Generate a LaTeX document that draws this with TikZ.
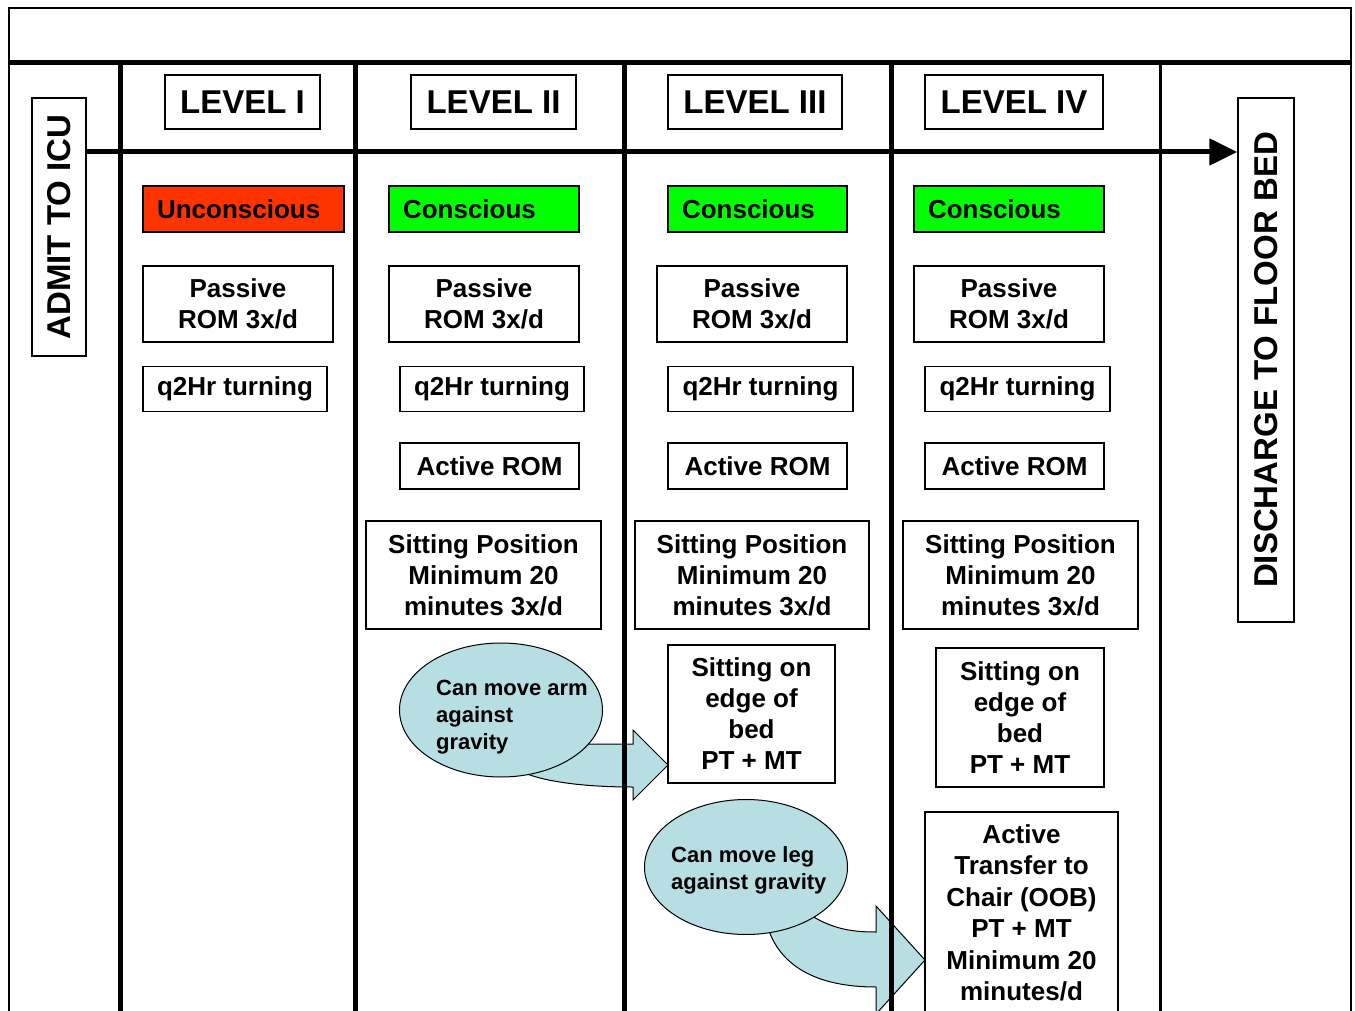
\documentclass[tikz,border=0pt]{standalone}
\usepackage{fontspec}
\setmainfont{Liberation Sans}
\usetikzlibrary{shapes,arrows.meta,positioning,calc}

\definecolor{unconred}{RGB}{255,51,0}
\definecolor{consgreen}{RGB}{0,255,0}
\definecolor{blobblue}{RGB}{183,222,226}

\tikzset{
  lvlbox/.style={draw, line width=1.5pt, inner sep=0pt, minimum height=54pt,
    font=\fontsize{33}{38}\selectfont\bfseries},
  sidebox/.style={draw, line width=1.5pt, inner sep=0pt, rotate=90,
    font=\fontsize{33}{38}\selectfont\bfseries},
  tagbox/.style={draw, line width=1.5pt, inner xsep=14pt, inner ysep=0pt,
    text width=#1, align=left, minimum height=46pt,
    font=\fontsize{26}{31}\selectfont\bfseries},
  taskbox/.style={draw, line width=1.5pt, inner sep=0pt, align=center,
    font=\fontsize{26}{31}\selectfont\bfseries},
  blob/.style={draw, line width=1pt, fill=blobblue, ellipse, inner sep=0pt},
  blobtext/.style={align=left, inner sep=0pt, font=\fontsize{22}{27}\selectfont\bfseries},
  bendarrow/.style={draw, line width=1pt, fill=blobblue},
  colline/.style={line width=5pt},
  flowline/.style={line width=5pt, -{Triangle[length=28pt,width=26pt]}}
}

\begin{document}
\begin{tikzpicture}[x=1pt,y=-1pt]
        \useasboundingbox (0,0) rectangle (1355,1011);
        \fill[white] (0,0) rectangle (1355,1011);
        \clip (0,0) rectangle (1355,1011);

        % Define points
        \coordinate (flow) at (0,152);

        % Draw curved arrows (behind the blobs and the lines)
        \path[bendarrow] (560,744) -- (633,744) -- (633,730) -- (668,765) -- (633,800)
            -- (633,787) .. controls (585,787) and (545,782) .. (522,772) -- cycle;
        \path[bendarrow] (800,908) -- (812,916) .. controls (835,930) and (855,932) .. (876,932)
            -- (876,906) -- (925,960) -- (876,1014) -- (876,987)
            .. controls (815,987) and (780,965) .. (768,928) -- cycle;

        % Draw blobs
        \node[blob, minimum width=203pt, minimum height=134pt] (arm) at (501,710) {};
        \node[blobtext, anchor=west] (armtxt) at (436,717) {Can move arm\\against\\gravity};
        \node[blob, minimum width=203pt, minimum height=135pt] (leg) at (746,867) {};
        \node[blobtext, anchor=west] (legtxt) at (671,870) {Can move leg\\against gravity};

        % Draw frame and column lines
        \draw[line width=2pt] (9,8) rectangle (1351,1030);
        \draw[colline] (9,63) -- (1351,63);
        \foreach \cx in {120,355,624,891}
            \draw[colline] (\cx,63) -- (\cx,1011);
        \draw[line width=3pt] (1160,63) -- (1160,1011);

        % Side labels
        \node[sidebox, minimum width=258pt, minimum height=54pt] (admit) at (59,227) {ADMIT TO ICU};
        \node[sidebox, minimum width=524pt, minimum height=56pt] (discharge) at (1266,360) {DISCHARGE TO FLOOR BED};
        \draw[flowline] (admit.south |- flow) -- (discharge.north |- flow);

        % Level headers
        \node[lvlbox, minimum width=155pt] (lvlI) at (242.5,102) {LEVEL I};
        \node[lvlbox, minimum width=165pt] (lvlII) at (493.5,102) {LEVEL II};
        \node[lvlbox, minimum width=174pt] (lvlIII) at (755,102) {LEVEL III};
        \node[lvlbox, minimum width=178pt] (lvlIV) at (1014,102) {LEVEL IV};

        % State of the patient
        \node[tagbox=173pt, fill=unconred] (unc1) at (243.5,209) {Unconscious};
        \node[tagbox=162pt, fill=consgreen] (con2) at (484,209) {Conscious};
        \node[tagbox=151pt, fill=consgreen] (con3) at (757.5,209) {Conscious};
        \node[tagbox=162pt, fill=consgreen] (con4) at (1009,209) {Conscious};

        % Passive ROM
        \node[taskbox, minimum width=190pt, minimum height=76pt] (pass1) at (238,304) {Passive\\ROM 3x/d};
        \node[taskbox, minimum width=190pt, minimum height=76pt] (pass2) at (484,304) {Passive\\ROM 3x/d};
        \node[taskbox, minimum width=190pt, minimum height=76pt] (pass3) at (752,304) {Passive\\ROM 3x/d};
        \node[taskbox, minimum width=190pt, minimum height=76pt] (pass4) at (1009,304) {Passive\\ROM 3x/d};

        % Turning
        \node[taskbox, minimum width=184pt, minimum height=45pt] (turn1) at (235,389) {q2Hr turning};
        \node[taskbox, minimum width=184pt, minimum height=45pt] (turn2) at (492,389) {q2Hr turning};
        \node[taskbox, minimum width=185pt, minimum height=45pt] (turn3) at (760.5,389) {q2Hr turning};
        \node[taskbox, minimum width=185pt, minimum height=45pt] (turn4) at (1017.5,389) {q2Hr turning};

        % Active ROM
        \node[taskbox, minimum width=179pt, minimum height=46pt] (act2) at (489.5,466) {Active ROM};
        \node[taskbox, minimum width=179pt, minimum height=46pt] (act3) at (757.5,466) {Active ROM};
        \node[taskbox, minimum width=179pt, minimum height=46pt] (act4) at (1014.5,466) {Active ROM};

        % Sitting position
        \node[taskbox, minimum width=235pt, minimum height=108pt] (sit2) at (483.5,575) {Sitting Position\\Minimum 20\\minutes 3x/d};
        \node[taskbox, minimum width=234pt, minimum height=108pt] (sit3) at (752,575) {Sitting Position\\Minimum 20\\minutes 3x/d};
        \node[taskbox, minimum width=235pt, minimum height=108pt] (sit4) at (1020.5,575) {Sitting Position\\Minimum 20\\minutes 3x/d};

        % Edge of bed
        \node[taskbox, minimum width=167pt, minimum height=138pt] (edge3) at (751.5,714) {Sitting on\\edge of\\bed\\PT + MT};
        \node[taskbox, minimum width=168pt, minimum height=139pt] (edge4) at (1020,717.5) {Sitting on\\edge of\\bed\\PT + MT};

        % Transfer to chair (runs past the bottom edge)
        \node[taskbox, minimum width=193pt, inner ysep=13pt, anchor=north,
            font=\fontsize{26}{31.4}\selectfont\bfseries] (chair4) at (1021.5,811)
            {Active\\Transfer to\\Chair (OOB)\\PT + MT\\Minimum 20\\minutes/d};
    \end{tikzpicture}
\end{document}
